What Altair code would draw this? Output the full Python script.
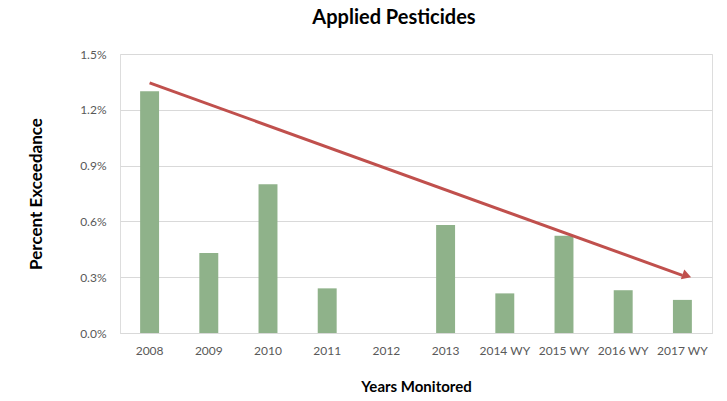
import altair as alt
import pandas as pd

years = ["2008", "2009", "2010", "2011", "2012", "2013", "2014 WY", "2015 WY", "2016 WY", "2017 WY"]
values = [0.0130, 0.0043, 0.0080, 0.0024, 0.0, 0.0058, 0.00213, 0.00523, 0.0023, 0.00178]
trend_x = ["2008", "2017 WY"]
trend_y = [0.01345, 0.0031]
y_ticks = [0.0, 0.003, 0.006, 0.009, 0.012, 0.015]

bars_df = pd.DataFrame({"year": years, "value": values})
trend_df = pd.DataFrame({"year": trend_x, "value": trend_y})
head_df = trend_df.iloc[[1]]

FONT = "Lato"
x_enc = alt.X("year:N", sort=years, title="Years Monitored",
              scale=alt.Scale(paddingInner=0.68, paddingOuter=0.34),
              axis=alt.Axis(labelAngle=0, labelFontSize=12, labelColor="#595959", labelFont=FONT,
                            ticks=False, domainColor="#D9D9D9", labelPadding=12,
                            titleFontSize=15, titleFont=FONT, titleFontWeight="bold",
                            titleColor="#000000", titlePadding=23))
y_enc = alt.Y("value:Q", title="Percent Exceedance",
              scale=alt.Scale(domain=[0, 0.015], nice=False),
              axis=alt.Axis(values=y_ticks, format=".1%", labelFontSize=12, labelColor="#595959",
                            labelFont=FONT, ticks=False, domain=False, gridColor="#D9D9D9",
                            labelPadding=14, titleFontSize=17, titleFont=FONT,
                            titleFontWeight="bold", titleColor="#000000", titlePadding=34))

bars = alt.Chart(bars_df).mark_bar(color="#8FB28A").encode(x=x_enc, y=y_enc)

line = alt.Chart(trend_df).mark_line(color="#C0504D", strokeWidth=3).encode(
    x=alt.X("year:N", sort=years), y="value:Q")

head = alt.Chart(head_df).mark_point(shape="triangle", filled=True, color="#C0504D",
                                     opacity=1, size=110, angle=109.6, xOffset=3).encode(
    x=alt.X("year:N", sort=years), y="value:Q")

chart = alt.layer(bars, line, head).properties(
    width=592, height=279,
    title=alt.TitleParams("Applied Pesticides", fontSize=20, font=FONT, fontWeight="bold",
                          color="#000000", anchor="middle", dx=-22, offset=20),
    autosize=alt.AutoSizeParams(type="none"),
    padding={"left": 120, "top": 54, "right": 15, "bottom": 68},
).configure_view(stroke=None).configure(background="white")

chart.save("out.html", embed_options={"renderer": "svg", "actions": False})
